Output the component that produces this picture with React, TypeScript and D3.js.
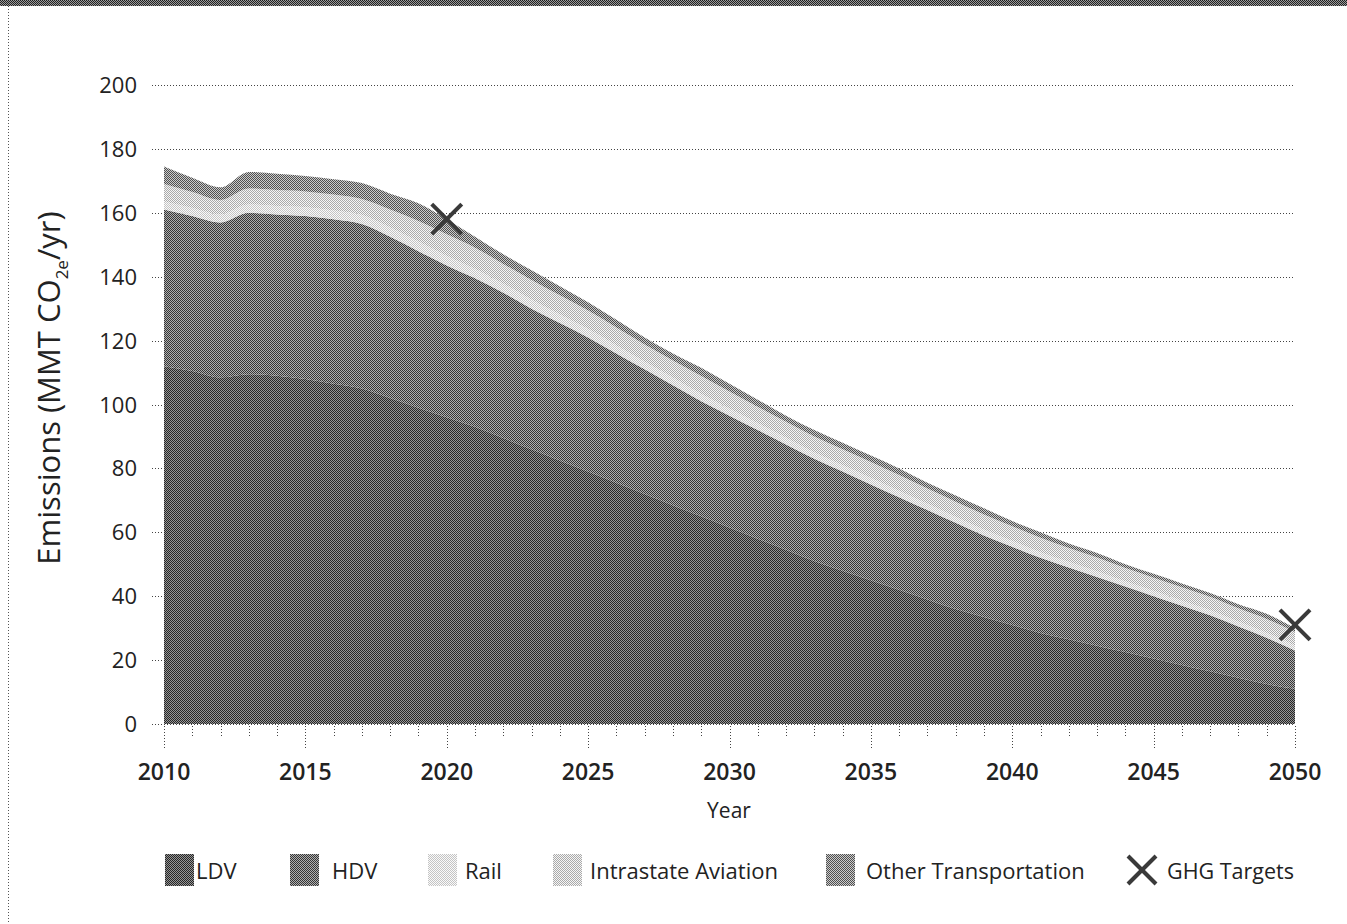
import React from 'react';
import * as d3 from 'd3';

// ---- data ----
const years = [
  2010, 2011, 2012, 2013, 2014, 2015, 2016, 2017, 2018, 2019, 2020,
  2021, 2022, 2023, 2024, 2025, 2026, 2027, 2028, 2029, 2030,
  2031, 2032, 2033, 2034, 2035, 2036, 2037, 2038, 2039, 2040,
  2041, 2042, 2043, 2044, 2045, 2046, 2047, 2048, 2049, 2050,
];
const ldv = [
  112, 110.5, 108.5, 109.5, 109, 108, 106.5, 105, 102, 99, 96,
  93, 89.5, 86, 82.5, 79, 75.5, 72, 68.5, 65, 61.5,
  58, 54.5, 51, 48, 45, 42, 39, 36, 33.5, 31,
  28.5, 26.5, 24.5, 22.5, 20.5, 18.5, 16.5, 14.5, 12.5, 11,
];
const hdv = [
  49, 48.5, 48.5, 50.5, 50.5, 51, 51.5, 51.5, 50.5, 49, 47.5,
  46.5, 45.5, 44, 43, 42, 40.5, 39, 37.5, 36, 35,
  34, 33, 32, 31, 30, 29, 28, 27, 25.5, 24.5,
  23.5, 22.5, 21.5, 20.5, 19.5, 18.5, 17.5, 16, 14.5, 12,
];
const rail = [
  2.5, 2.5, 2.5, 2.6, 2.6, 2.7, 2.7, 2.8, 2.9, 3.0, 3.0,
  2.9, 2.8, 2.8, 2.7, 2.6, 2.5, 2.4, 2.4, 2.3, 2.2,
  2.1, 2.1, 2.0, 2.0, 2.0, 1.9, 1.9, 1.8, 1.8, 1.8,
  1.7, 1.7, 1.7, 1.6, 1.6, 1.6, 1.6, 1.5, 1.5, 1.5,
];
const aviation = [
  5.5, 5.0, 4.5, 5.0, 5.0, 5.0, 5.0, 5.0, 5.6, 6.4, 6.8,
  6.7, 6.2, 6.2, 6.0, 5.8, 5.6, 5.4, 5.4, 5.6, 5.4,
  5.2, 5.0, 5.0, 5.0, 5.0, 5.0, 4.8, 4.8, 4.8, 4.6,
  4.6, 4.4, 4.4, 4.2, 4.2, 4.2, 4.2, 4.2, 4.4, 4.2,
];
const other = [
  5.5, 4.5, 4.0, 5.2, 5.1, 4.8, 4.8, 5.0, 5.0, 5.6, 4.7,
  3.4, 3.0, 3.0, 2.8, 2.6, 2.4, 2.2, 2.2, 2.6, 2.4,
  2.2, 1.9, 2.0, 2.0, 2.0, 2.1, 1.8, 1.9, 1.9, 1.6,
  1.7, 1.4, 1.4, 1.2, 1.2, 1.2, 1.2, 1.3, 1.6, 1.3,
];
const targetYears = [2020, 2050];
const targetValues = [158, 31];
const yTicks = [0, 20, 40, 60, 80, 100, 120, 140, 160, 180, 200];
const xMajorTicks = [2010, 2015, 2020, 2025, 2030, 2035, 2040, 2045, 2050];
const seriesKeys = ['LDV', 'HDV', 'Rail', 'Intrastate Aviation', 'Other Transportation'];
const seriesValues = [ldv, hdv, rail, aviation, other];

// ---- styles ----
const W = 1347;
const H = 924;
const M = { left: 164, right: 1295, top: 85, bottom: 724 };
const patternColors: Record<string, [string, string]> = {
  'LDV': ['#969696', '#262626'],
  'HDV': ['#b0b0b0', '#363636'],
  'Rail': ['#fafafa', '#c4c4c4'],
  'Intrastate Aviation': ['#f6f6f6', '#aaaaaa'],
  'Other Transportation': ['#cccccc', '#505050'],
};
const FONT = '"Open Sans", "Noto Sans", sans-serif';

export default function App() {
  const table = years.map((yr, i) => {
    const row: any = { year: yr };
    seriesKeys.forEach((k, j) => (row[k] = seriesValues[j][i]));
    return row;
  });
  const x = d3.scaleLinear().domain([2010, 2050]).range([M.left, M.right]);
  const y = d3.scaleLinear().domain([0, 200]).range([M.bottom, M.top]);
  const stack = d3.stack<any>().keys(seriesKeys)(table);
  const area = d3
    .area<any>()
    .x((d) => x(d.data.year))
    .y0((d) => y(d[0]))
    .y1((d) => y(d[1]))
    .curve(d3.curveMonotoneX);
  const pid = (k: string) => 'pat-' + k.replace(/\s+/g, '-');

  const legendItems = [
    { key: 'LDV', sx: 165, tx: 196 },
    { key: 'HDV', sx: 290, tx: 332 },
    { key: 'Rail', sx: 428, tx: 465 },
    { key: 'Intrastate Aviation', sx: 553, tx: 590 },
    { key: 'Other Transportation', sx: 826, tx: 866 },
  ];

  const cross = (cx: number, cy: number, r: number, sw: number, key: string) => (
    <g key={key} stroke="#3a3a3a" strokeWidth={sw} strokeLinecap="butt">
      <line x1={cx - r} y1={cy - r} x2={cx + r} y2={cy + r} />
      <line x1={cx - r} y1={cy + r} x2={cx + r} y2={cy - r} />
    </g>
  );

  return (
    <div style={{ position: 'absolute', left: 0, top: 0 }}>
      <svg width={W} height={H} style={{ display: 'block', background: '#fff' }}>
        <defs>
          {seriesKeys.map((k) => (
            <pattern key={k} id={pid(k)} patternUnits="userSpaceOnUse" width={2} height={2}>
              <rect width={2} height={2} fill={patternColors[k][0]} />
              <rect x={0} y={0} width={1} height={1} fill={patternColors[k][1]} />
              <rect x={1} y={1} width={1} height={1} fill={patternColors[k][1]} />
            </pattern>
          ))}
          <pattern id="pat-frame" patternUnits="userSpaceOnUse" width={2} height={2}>
            <rect width={2} height={2} fill="#9a9a9a" />
            <rect x={0} y={0} width={1} height={1} fill="#222" />
            <rect x={1} y={1} width={1} height={1} fill="#222" />
          </pattern>
        </defs>

        {/* frame */}
        <rect x={0} y={0} width={W} height={6} fill="url(#pat-frame)" />
        <line x1={8.5} y1={6} x2={8.5} y2={H} stroke="#555" strokeDasharray="1,2" />

        {/* gridlines */}
        {yTicks.map((t) => (
          <line
            key={'g' + t}
            x1={152}
            x2={M.right}
            y1={Math.round(y(t)) + 0.5}
            y2={Math.round(y(t)) + 0.5}
            stroke="#444"
            strokeDasharray="1,2"
          />
        ))}

        {/* areas */}
        {stack.map((s) => (
          <path key={s.key} d={area(s) || ''} fill={`url(#${pid(s.key)})`} />
        ))}

        {/* x ticks */}
        {years.map((yr) => {
          const major = xMajorTicks.includes(yr);
          const xx = Math.round(x(yr)) + 0.5;
          return (
            <line
              key={'t' + yr}
              x1={xx}
              x2={xx}
              y1={726}
              y2={major ? 750 : 736}
              stroke="#444"
              strokeDasharray="1,2"
            />
          );
        })}
        {xMajorTicks.map((yr) => (
          <text
            key={'xl' + yr}
            x={x(yr)}
            y={780}
            textAnchor="middle"
            fontFamily={FONT}
            fontWeight={600}
            fontSize={23}
            fill="#222"
          >
            {yr}
          </text>
        ))}
        <text x={729} y={818} textAnchor="middle" fontFamily={FONT} fontSize={21} fill="#222">
          Year
        </text>

        {/* y tick labels */}
        {yTicks.map((t) => (
          <text
            key={'yl' + t}
            x={137}
            y={y(t) + 8}
            textAnchor="end"
            fontFamily={FONT}
            fontSize={22}
            fill="#222"
          >
            {t}
          </text>
        ))}
        <text
          transform="translate(60,388) rotate(-90)"
          textAnchor="middle"
          fontFamily={FONT}
          fontSize={31}
          fill="#222"
        >
          Emissions (MMT CO
          <tspan fontSize={17} dy={8}>2e</tspan>
          <tspan dy={-8}>/yr)</tspan>
        </text>

        {/* GHG targets */}
        {targetYears.map((yr, i) => cross(x(yr), y(targetValues[i]), 15, 4, 'c' + yr))}

        {/* legend */}
        {legendItems.map((it) => (
          <g key={'lg' + it.key}>
            <rect x={it.sx} y={854} width={29} height={32} fill={`url(#${pid(it.key)})`} />
            <text x={it.tx} y={879} fontFamily={FONT} fontSize={22} fill="#222">
              {it.key}
            </text>
          </g>
        ))}
        {cross(1142, 870, 14, 4, 'legend-cross')}
        <text x={1167} y={879} fontFamily={FONT} fontSize={21.5} fill="#222">
          GHG Targets
        </text>
      </svg>
    </div>
  );
}
